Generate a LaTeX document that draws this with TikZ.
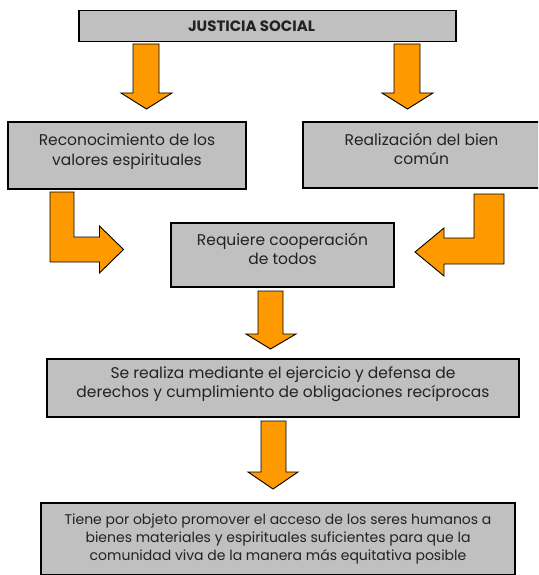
\documentclass[tikz,border=0pt]{standalone}
\usepackage{fontspec}
\setmainfont{Poppins}
\usetikzlibrary{positioning}

\definecolor{boxgray}{HTML}{C0C0C0}
\definecolor{arroworange}{HTML}{FF9900}
\definecolor{textdark}{HTML}{222222}

\begin{document}
\begin{tikzpicture}[
    x=1pt, y=-1pt,
    box/.style={rectangle, draw=black, line width=1.2pt, fill=boxgray, align=center, text=textdark, inner sep=0pt,
        font=\fontsize{15.5}{19.5}\selectfont, text depth=12pt},
    bigarrow/.style={draw=black, line width=0.9pt, fill=arroworange, line join=miter}
]
\useasboundingbox (0,0) rectangle (538,575);
\clip (0,0) rectangle (538,575);

% Boxes
\node[box, minimum width=377, minimum height=31, text depth=, font=\fontsize{15}{16}\selectfont\bfseries] (justicia) at (267.5,26) {JUSTICIA SOCIAL\hspace*{32pt}};
\node[box, minimum width=238, minimum height=67] (valores) at (127,155.5) {Reconocimiento de los\\valores espirituales};
\node[box, minimum width=237, minimum height=66] (biencomun) at (421.5,155) {Realización del bien\\común};
\node[box, minimum width=223, minimum height=64] (cooperacion) at (282.5,255) {Requiere cooperación\\de todos};
\node[box, minimum width=472, minimum height=58] (derechos) at (283,388) {Se realiza mediante el ejercicio y defensa de\\derechos y cumplimiento de obligaciones recíprocas};
\node[box, minimum width=474, minimum height=72, text depth=, font=\fontsize{14}{18}\selectfont] (objeto) at (278,539) {Tiene por objeto promover el acceso de los seres humanos a\\bienes materiales y espirituales suficientes para que la\\comunidad viva de la manera más equitativa posible};

% Arrows
\draw[bigarrow] (133,44) -- (159,44) -- (159,93) -- (172,93) -- (146.5,109) -- (121,93) -- (133,93) -- cycle;
\draw[bigarrow] (394,44) -- (420,44) -- (420,93) -- (433,93) -- (407.5,109) -- (382,93) -- (394,93) -- cycle;
\draw[bigarrow] (50,192) -- (74,192) -- (74,237) -- (99.5,237) -- (99.5,226) -- (123.5,249.5) -- (99.5,273) -- (99.5,262) -- (50,262) -- cycle;
\draw[bigarrow] (474,194) -- (504,194) -- (504,264) -- (444,264) -- (444,276) -- (415,252) -- (444,228) -- (444,238) -- (474,238) -- cycle;
\draw[bigarrow] (258,291) -- (283,291) -- (283,334) -- (296,334) -- (270.5,349) -- (246,334) -- (258,334) -- cycle;
\draw[bigarrow] (261,421) -- (286,421) -- (286,472) -- (298,472) -- (273,489) -- (248,472) -- (261,472) -- cycle;

\end{tikzpicture}
\end{document}
